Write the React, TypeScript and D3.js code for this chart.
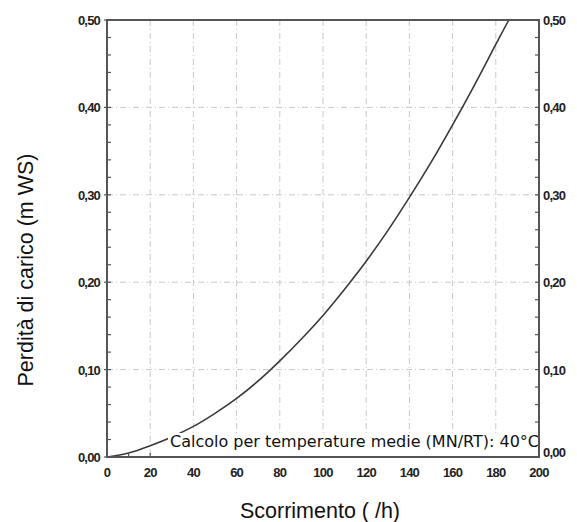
import React, { useRef, useEffect } from 'react';
import * as d3 from 'd3';

// flow (x) and pressure loss (y)
const flowValues = [0, 10, 20, 30, 40, 50, 60, 70, 80, 90, 100, 110, 120, 130, 140, 150, 160, 170, 180, 186];
const lossValues = [0, 0.0045, 0.013, 0.023, 0.035, 0.05, 0.067, 0.087, 0.11, 0.135, 0.162, 0.192, 0.224, 0.259, 0.297, 0.337, 0.38, 0.425, 0.472, 0.5];

const xTicks = [0, 20, 40, 60, 80, 100, 120, 140, 160, 180, 200];
const yTicks = [0, 0.1, 0.2, 0.3, 0.4, 0.5];
const yTickLabels = ['0,00', '0,10', '0,20', '0,30', '0,40', '0,50'];

const xTitle = 'Scorrimento ( /h)';
const yTitle = 'Perdità di carico (m WS)';
const note = 'Calcolo per temperature medie (MN/RT): 40°C';

const App = () => {
    const svgRef = useRef<SVGSVGElement>(null);

    useEffect(() => {
        const svg = d3.select(svgRef.current);
        svg.selectAll('*').remove();

        const left = 107, right = 539, top = 20, bottom = 457;
        const x = d3.scaleLinear().domain([0, 200]).range([left, right]);
        const y = d3.scaleLinear().domain([0, 0.5]).range([bottom, top]);
        const sans = 'Liberation Sans, Arial, sans-serif';

        // dashed grid
        const grid = svg.append('g')
            .attr('stroke', '#c8c8c8')
            .attr('stroke-width', 1)
            .attr('stroke-dasharray', '6,3,1,3');
        grid.selectAll('line.vx')
            .data(xTicks.slice(1, -1))
            .join('line')
            .attr('x1', d => x(d)).attr('x2', d => x(d))
            .attr('y1', top).attr('y2', bottom);
        grid.selectAll('line.hy')
            .data(yTicks.slice(1, -1))
            .join('line')
            .attr('x1', left).attr('x2', right)
            .attr('y1', d => y(d)).attr('y2', d => y(d));

        // curve
        const line = d3.line<number>()
            .x((d, i) => x(flowValues[i]))
            .y(d => y(d))
            .curve(d3.curveMonotoneX);
        svg.append('path')
            .datum(lossValues)
            .attr('fill', 'none')
            .attr('stroke', '#3a3a3a')
            .attr('stroke-width', 1.6)
            .attr('d', line);

        // minor ticks
        const minorY = d3.range(0, 0.5001, 0.02);
        const minorX = d3.range(0, 200.001, 10);
        const ticks = svg.append('g').attr('stroke', '#555').attr('stroke-width', 1.2);
        ticks.selectAll('line.ly').data(minorY).join('line')
            .attr('x1', left).attr('x2', left + 4)
            .attr('y1', d => y(d)).attr('y2', d => y(d));
        ticks.selectAll('line.ry').data(minorY).join('line')
            .attr('x1', right).attr('x2', right - 4)
            .attr('y1', d => y(d)).attr('y2', d => y(d));
        ticks.selectAll('line.bx').data(minorX).join('line')
            .attr('x1', d => x(d)).attr('x2', d => x(d))
            .attr('y1', bottom).attr('y2', bottom - 4);
        ticks.selectAll('line.my').data(yTicks).join('line')
            .attr('x1', left - 3).attr('x2', left)
            .attr('y1', d => y(d)).attr('y2', d => y(d));

        // note with white box
        const noteG = svg.append('g');
        const noteText = noteG.append('text')
            .attr('x', 170)
            .attr('y', 447)
            .attr('font-family', 'DejaVu Sans, sans-serif')
            .attr('font-size', 16)
            .attr('fill', '#111')
            .text(note);
        const bb = (noteText.node() as SVGTextElement).getBBox();
        noteG.insert('rect', 'text')
            .attr('x', bb.x - 2).attr('y', bb.y + 1)
            .attr('width', right - bb.x + 2).attr('height', bottom - bb.y - 2)
            .attr('fill', '#fff');

        // frame
        svg.append('rect')
            .attr('x', left).attr('y', top)
            .attr('width', right - left).attr('height', bottom - top)
            .attr('fill', 'none')
            .attr('stroke', '#555')
            .attr('stroke-width', 2);

        // tick labels
        const tickStyle = (sel: any) => sel
            .attr('font-family', sans)
            .attr('font-weight', 'bold')
            .attr('font-size', 13)
            .attr('letter-spacing', -0.8)
            .attr('fill', '#222');
        svg.append('g').selectAll('text').data(xTicks).join('text')
            .attr('x', d => x(d))
            .attr('y', bottom + 20)
            .attr('text-anchor', 'middle')
            .call(tickStyle)
            .text(d => String(d));
        svg.append('g').selectAll('text').data(yTicks).join('text')
            .attr('x', left - 7)
            .attr('y', d => y(d) + 5)
            .attr('text-anchor', 'end')
            .call(tickStyle)
            .text((d, i) => yTickLabels[i]);
        svg.append('g').selectAll('text').data(yTicks).join('text')
            .attr('x', right + 4)
            .attr('y', d => y(d) + (d === 0 ? 0 : 5))
            .attr('text-anchor', 'start')
            .call(tickStyle)
            .text((d, i) => yTickLabels[i]);

        // axis titles
        svg.append('text')
            .attr('x', 320)
            .attr('y', 518)
            .attr('text-anchor', 'middle')
            .attr('font-family', sans)
            .attr('font-size', 21.5)
            .attr('fill', '#111')
            .text(xTitle);
        svg.append('text')
            .attr('transform', 'translate(33,270) rotate(-90)')
            .attr('text-anchor', 'middle')
            .attr('font-family', sans)
            .attr('font-size', 21.5)
            .attr('fill', '#111')
            .text(yTitle);
    }, []);

    return (
        <svg ref={svgRef} width={577} height={522}
            style={{ position: 'absolute', left: 0, top: 0, background: '#fff' }} />
    );
};

export default App;
